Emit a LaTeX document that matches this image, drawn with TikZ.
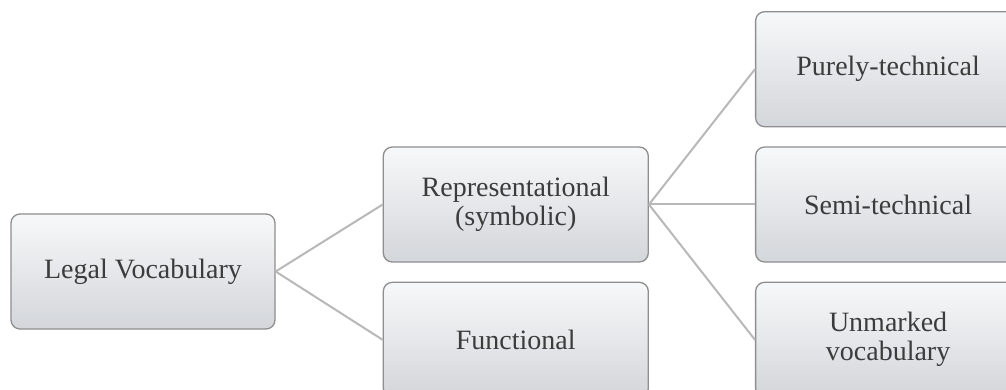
\documentclass[tikz,border=0pt]{standalone}
\usepackage{fontspec}
\setmainfont{Liberation Serif}
\usepackage{xcolor}
\usetikzlibrary{positioning}

\definecolor{boxtop}{HTML}{F7F8F9}
\definecolor{boxbot}{HTML}{D3D6DA}
\definecolor{boxline}{HTML}{8E8E8E}
\definecolor{linkgray}{HTML}{B8B8B8}
\definecolor{txtgray}{HTML}{3C3C3C}

\begin{document}
\begin{tikzpicture}[
    x=1pt, y=1pt,
    node distance=19pt and 107pt,
    box/.style={rectangle, draw=boxline, line width=1.3pt,
                top color=boxtop, bottom color=boxbot,
                minimum width=265pt, minimum height=115pt,
                align=center, text=txtgray,
                font=\fontsize{28}{29}\selectfont,
                rounded corners=9pt, inner sep=0pt},
    link/.style={linkgray, line width=2pt},
  ]
    \useasboundingbox (0,0) rectangle (1006,-390);
    \clip (0,0) rectangle (1006,-390);

    % -- root ------------------------------------
    \node[box, minimum width=264pt] (legal) at (143,-271.5) {Legal Vocabulary};

    % -- second level ----------------------------
    \node[box, right=107pt of legal, yshift=67pt] (repr) {Representational\\(symbolic)};
    \node[box, below=of repr] (func) {Functional};

    % -- third level -----------------------------
    \node[box, right=106pt of repr] (semi) {Semi-technical};
    \node[box, above=of semi] (pure) {Purely-technical};
    \node[box, below=of semi] (unmark) {Unmarked\\vocabulary};

    % -- connectors ------------------------------
    \draw[link] (legal.east) -- (repr.west);
    \draw[link] (legal.east) -- (func.west);
    \draw[link] (repr.east) -- (pure.west);
    \draw[link] (repr.east) -- (semi.west);
    \draw[link] (repr.east) -- (unmark.west);
  \end{tikzpicture}
\end{document}
